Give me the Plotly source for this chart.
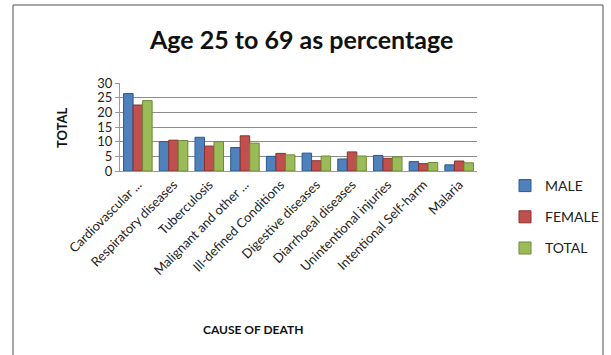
import plotly.graph_objects as go

categories = ["Cardiovascular ...", "Respiratory diseases", "Tuberculosis",
              "Malignant and other ...", "Ill-defined Conditions", "Digestive diseases",
              "Diarrhoeal diseases", "Unintentional injuries", "Intentional Self-harm", "Malaria"]
male = [26.4, 10.0, 11.5, 8.0, 5.0, 6.1, 4.1, 5.3, 3.2, 2.1]
female = [22.5, 10.5, 8.5, 12.0, 6.0, 3.5, 6.5, 4.3, 2.5, 3.4]
total = [24.0, 10.4, 10.0, 9.5, 5.5, 5.1, 5.1, 4.8, 2.9, 2.8]
series_names = ["MALE", "FEMALE", "TOTAL"]
colors = ["#4F81BD", "#C0504D", "#9BBB59"]
edge_colors = ["#2C5A8C", "#8C2F2C", "#6E8A37"]
yticks = [0, 5, 10, 15, 20, 25, 30]

W, H = 611, 355
FONT = "Lato"

fig = go.Figure()
for i, (name, vals) in enumerate(zip(series_names, [male, female, total])):
    fig.add_trace(go.Bar(
        x=categories, y=vals, name=name,
        marker=dict(color=colors[i], line=dict(color=edge_colors[i], width=1)),
        legendgroup=name,
    ))

border = dict(color="#8a8a8a", width=1.5)
bx0, bx1, by1 = 13 / W, 603 / W, 1 - 5 / H

fig.update_layout(
    template="none",
    width=W, height=H,
    margin=dict(l=0, r=0, t=0, b=0, autoexpand=False),
    paper_bgcolor="white", plot_bgcolor="white",
    font=dict(family=FONT, color="#222"),
    barmode="group", bargap=0.2, bargroupgap=0.0,
    showlegend=True,
    legend=dict(x=505 / W, y=1 - 170 / H, xanchor="left", yanchor="top",
                font=dict(size=14, family=FONT, color="#222"),
                tracegroupgap=10, itemwidth=30, bgcolor="rgba(0,0,0,0)"),
    xaxis=dict(domain=[120 / W, 477 / W], tickangle=-45, tickfont=dict(size=13, family=FONT, color="#222"),
               showline=True, linecolor="#999", linewidth=1, ticks="", showgrid=False, automargin=False),
    yaxis=dict(domain=[1 - 171 / H, 1 - 83 / H], range=[0, 30], tickvals=yticks,
               tickfont=dict(size=13, family=FONT, color="#222"),
               showline=True, linecolor="#999", linewidth=1, ticks="outside", ticklen=4, tickcolor="#999",
               showgrid=True, gridcolor="#8c8c8c", gridwidth=1, zeroline=False, automargin=False),
    shapes=[
        dict(type="line", xref="paper", yref="paper", x0=bx0, x1=bx1, y0=by1, y1=by1, line=border, layer="above"),
        dict(type="line", xref="paper", yref="paper", x0=bx0, x1=bx0, y0=0, y1=by1, line=border, layer="above"),
        dict(type="line", xref="paper", yref="paper", x0=bx1, x1=bx1, y0=0, y1=by1, line=border, layer="above"),
    ],
    annotations=[
        dict(text="<b>Age 25 to 69 as percentage</b>", x=301 / W, y=1 - 39 / H, xref="paper", yref="paper",
             showarrow=False, font=dict(size=25, family=FONT, color="#111"), xanchor="center", yanchor="middle"),
        dict(text="<b>TOTAL</b>", x=62 / W, y=1 - 128 / H, xref="paper", yref="paper", textangle=-90,
             showarrow=False, font=dict(size=13, family=FONT, color="#111"), xanchor="center", yanchor="middle"),
        dict(text="<b>CAUSE OF DEATH</b>", x=253 / W, y=1 - 329 / H, xref="paper", yref="paper",
             showarrow=False, font=dict(size=12, family=FONT, color="#111"), xanchor="center", yanchor="middle"),
    ],
)

fig.write_html("out.html",
               post_script="document.documentElement.style.overflow='hidden';document.body.style.overflow='hidden';document.body.style.margin='0';")
